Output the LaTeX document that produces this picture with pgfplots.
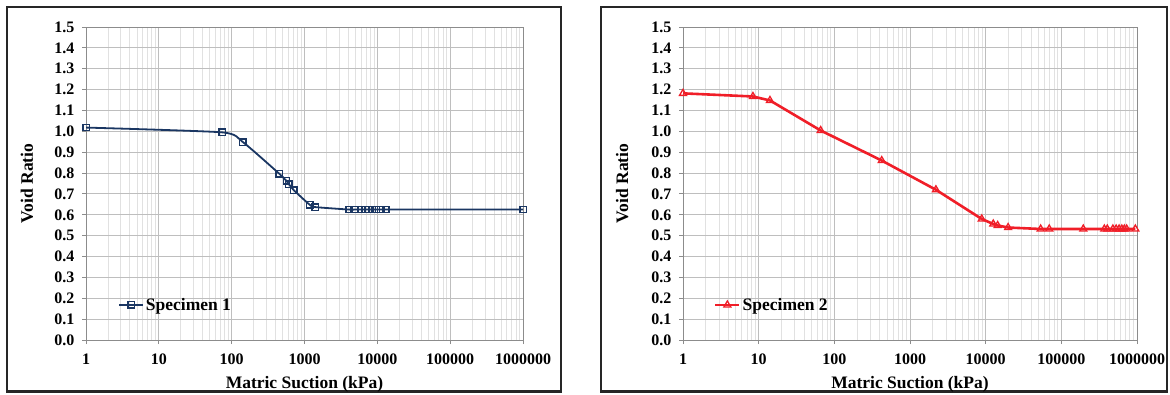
\documentclass[border=0pt]{standalone}
\usepackage{pgfplots}
\pgfplotsset{compat=1.18}
\usepackage{fontspec}
\setmainfont{Liberation Serif}
\definecolor{navy}{RGB}{26,54,98}
\definecolor{xred}{RGB}{240,30,40}
\definecolor{gmaj}{RGB}{190,190,190}
\definecolor{gmin}{RGB}{225,225,225}
\definecolor{axgray}{RGB}{140,140,140}
\pgfplotsset{
  vrstyle/.style={
    scale only axis,
    xmin=1, xmax=1000000, ymin=0, ymax=1.5,
    xtick={1,10,100,1000,10000,100000,1000000},
    xticklabels={1,10,100,1000,10000,100000,1000000},
    minor xtick={2,3,4,5,6,7,8,9,20,30,40,50,60,70,80,90,200,300,400,500,600,700,800,900,2000,3000,4000,5000,6000,7000,8000,9000,20000,30000,40000,50000,60000,70000,80000,90000,200000,300000,400000,500000,600000,700000,800000,900000},
    ytick={0,0.1,0.2,0.3,0.4,0.5,0.6,0.7,0.8,0.9,1.0,1.1,1.2,1.3,1.4,1.5},
    yticklabels={0.0,0.1,0.2,0.3,0.4,0.5,0.6,0.7,0.8,0.9,1.0,1.1,1.2,1.3,1.4,1.5},
    grid=both,
    major grid style={gmaj, line width=0.9pt},
    minor grid style={gmin, line width=0.8pt},
    axis line style={axgray, line width=0.9pt},
    tick pos=left, tick align=outside,
    major tick length=4pt, minor tick length=0pt,
    tick style={axgray, line width=0.9pt},
    ticklabel style={font=\bfseries\fontsize{16}{16}\selectfont},
    xticklabel style={yshift=-6pt},
    yticklabel style={xshift=-4pt},
    xlabel={Matric Suction (kPa)},
    ylabel={Void Ratio},
    label style={font=\bfseries\fontsize{17.5}{17.5}\selectfont},
    xlabel style={at={(axis description cs:0.5,-0.14)}, anchor=center},
    legend style={draw=none, fill=none, font=\bfseries\fontsize{17.5}{17.5}\selectfont, anchor=west, inner sep=0pt, row sep=0pt},
    legend cell align=left,
    legend image code/.code={\draw[mark repeat=2,mark phase=2] plot coordinates {(0pt,0pt) (12pt,0pt) (24pt,0pt)};},
  }
}
\begin{document}
\begin{tikzpicture}[x=1pt,y=1pt]
\path[use as bounding box] (0,0) rectangle (1170,394);
\draw[line width=2.2pt, black!85] (7,2.5) rectangle (561,387);
\draw[line width=2.2pt, black!85] (601,2.5) rectangle (1167,387);
\begin{semilogxaxis}[vrstyle, at={(86pt,54pt)}, anchor=south west, width=437pt, height=313pt,
  ylabel style={at={(axis description cs:-0.135,0.5)}, anchor=center},
  legend style={at={(axis description cs:0.073,0.112)}}]
\addplot[navy, line width=1.8pt, smooth, tension=0.35, mark=square, mark size=3.2pt, mark options={solid, fill=white, line width=1.4pt}] coordinates {
(1,1.018) (74.5,0.995) (143,0.948) (450,0.797) (567,0.762) (610,0.747) (713,0.718)
(1180,0.648) (1400,0.637) (4130,0.625) (4840,0.625) (5980,0.625) (6780,0.625) (7530,0.625)
(8450,0.625) (9590,0.625) (11200,0.625) (13150,0.625) (1000000,0.625)};
\addlegendentry{Specimen 1}
\end{semilogxaxis}
\begin{semilogxaxis}[vrstyle, at={(683pt,54pt)}, anchor=south west, width=454pt, height=313pt,
  ylabel style={at={(axis description cs:-0.134,0.5)}, anchor=center},
  legend style={at={(axis description cs:0.068,0.112)}}]
\addplot[xred, line width=2.6pt, mark=triangle, mark size=4pt, mark options={solid, fill=white, line width=1.3pt}] coordinates {
(1,1.182) (8.4,1.167) (14.1,1.148) (66,1.004) (423,0.86) (2200,0.72) (8870,0.58)
(12600,0.556) (14400,0.549) (19800,0.539) (53300,0.532) (69200,0.532) (195000,0.532)
(370000,0.532) (405000,0.532) (480000,0.532) (530000,0.532) (580000,0.532) (630000,0.532)
(680000,0.532) (730000,0.532) (950000,0.532)};
\addlegendentry{Specimen 2}
\end{semilogxaxis}
\end{tikzpicture}
\end{document}
